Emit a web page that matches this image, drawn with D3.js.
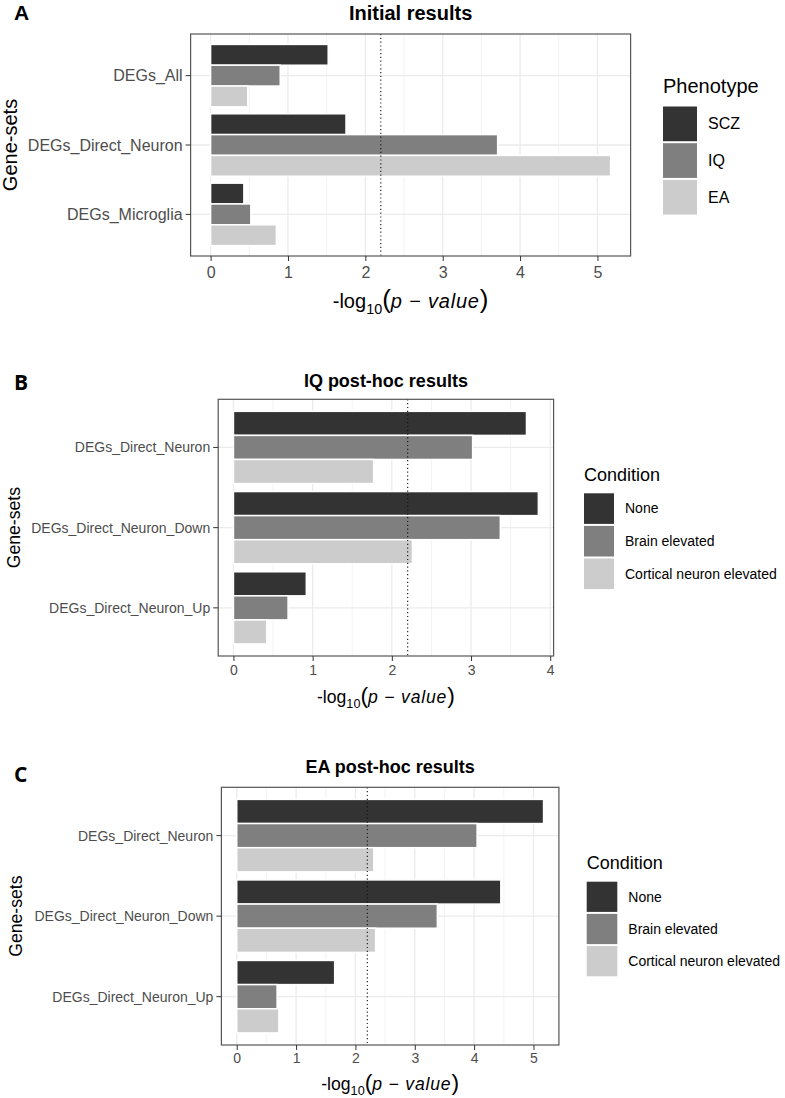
<!DOCTYPE html>
<html>
<head>
<meta charset="utf-8">
<style>
    body { margin: 0; background: #fff; }
    svg text { font-family: Arial, 'Liberation Sans', Helvetica, sans-serif; }
    svg text.letter { font-family: 'Open Sans', sans-serif; }
    .axis .domain { display: none; }
    .axis .tick line { stroke: #333; }
    .axis .tick text { fill: #4d4d4d; }
</style>
</head>
<body>
<svg width="785" height="1098"></svg>

<script src="https://d3js.org/d3.v7.min.js"></script>
<script>
    // ---- data ----
    const genesetsInitial = ["DEGs_All", "DEGs_Direct_Neuron", "DEGs_Microglia"];
    const phenotypes = ["SCZ", "IQ", "EA"];
    const initialSCZ = [1.52, 1.75, 0.43];
    const initialIQ = [0.90, 3.71, 0.52];
    const initialEA = [0.48, 5.17, 0.85];

    const genesetsPost = ["DEGs_Direct_Neuron", "DEGs_Direct_Neuron_Down", "DEGs_Direct_Neuron_Up"];
    const conditions = ["None", "Brain elevated", "Cortical neuron elevated"];
    const iqNone = [3.70, 3.85, 0.92];
    const iqBrain = [3.02, 3.37, 0.69];
    const iqCortical = [1.77, 2.26, 0.42];
    const eaNone = [5.17, 4.45, 1.65];
    const eaBrain = [4.05, 3.38, 0.68];
    const eaCortical = [2.31, 2.34, 0.71];

    const ticksInitial = [0, 1, 2, 3, 4, 5];
    const ticksIQ = [0, 1, 2, 3, 4];
    const ticksEA = [0, 1, 2, 3, 4, 5];
    const threshold = 2.2;

    const fills = ["#333333", "#7f7f7f", "#cccccc"];

    let svg = d3.select("svg");

    function drawPanel(p) {
        let g = svg.append("g");
        let maxV = d3.max(p.series.flat());

        let x = d3.scaleLinear()
            .domain([-0.05 * maxV, maxV * 1.05])
            .range([p.box.l, p.box.r]);

        let y = d3.scaleBand()
            .domain(p.cats)
            .range([p.box.t, p.box.b])
            .paddingInner(0)
            .paddingOuter(0.1);

        let sub = d3.scaleBand()
            .domain(p.groups)
            .range([0.05 * y.bandwidth(), 0.95 * y.bandwidth()]);

        let color = d3.scaleOrdinal().domain(p.groups).range(fills);

        // grid lines
        let minor = p.ticks.slice(1).map(t => t - 0.5);
        g.append("g").selectAll("line").data(minor).join("line")
            .attr("x1", d => x(d)).attr("x2", d => x(d))
            .attr("y1", p.box.t).attr("y2", p.box.b)
            .style("stroke", "#f0f0f0").style("stroke-width", 0.8);
        g.append("g").selectAll("line").data(p.ticks).join("line")
            .attr("x1", d => x(d)).attr("x2", d => x(d))
            .attr("y1", p.box.t).attr("y2", p.box.b)
            .style("stroke", "#ebebeb").style("stroke-width", 1.3);
        g.append("g").selectAll("line").data(p.cats).join("line")
            .attr("x1", p.box.l).attr("x2", p.box.r)
            .attr("y1", d => y(d) + y.bandwidth() / 2).attr("y2", d => y(d) + y.bandwidth() / 2)
            .style("stroke", "#ebebeb").style("stroke-width", 1.3);

        // bars
        let rows = p.cats.flatMap((c, i) => p.groups.map((grp, j) => ({ cat: c, grp: grp, v: p.series[j][i] })));
        g.append("g").selectAll("rect").data(rows).join("rect")
            .attr("x", x(0))
            .attr("y", d => y(d.cat) + sub(d.grp))
            .attr("width", d => x(d.v) - x(0))
            .attr("height", sub.bandwidth())
            .style("fill", d => color(d.grp))
            .style("stroke", "#fff")
            .style("stroke-width", 1.5);

        // threshold
        g.append("line")
            .attr("x1", x(threshold)).attr("x2", x(threshold))
            .attr("y1", p.box.t).attr("y2", p.box.b)
            .style("stroke", "#111").style("stroke-width", 1.1)
            .style("stroke-dasharray", "1.2,2.6");

        // border
        g.append("rect")
            .attr("x", p.box.l).attr("y", p.box.t)
            .attr("width", p.box.r - p.box.l).attr("height", p.box.b - p.box.t)
            .style("fill", "none").style("stroke", "#555").style("stroke-width", 1.2);

        // axes
        let xAxis = g.append("g").attr("class", "x axis")
            .attr("transform", `translate(0,${p.box.b})`)
            .call(d3.axisBottom(x).tickValues(p.ticks).tickSize(5).tickFormat(d3.format("d")));
        xAxis.selectAll(".tick text")
            .attr("y", p.xTickOffset).attr("dy", "0.35em")
            .style("font-size", p.tickSize + "px");

        let yAxis = g.append("g").attr("class", "y axis")
            .attr("transform", `translate(${p.box.l},0)`)
            .call(d3.axisLeft(y).tickSize(5).tickPadding(3));
        yAxis.selectAll(".tick text")
            .attr("dy", "0.35em")
            .style("font-size", p.tickSize + "px");

        // titles
        g.append("text")
            .attr("x", (p.box.l + p.box.r) / 2).attr("y", p.titleY)
            .attr("dy", "0.35em").attr("text-anchor", "middle")
            .style("font-weight", "bold").style("font-size", p.titleSize + "px")
            .text(p.title);

        g.append("text")
            .attr("class", p.letterClass)
            .attr("x", 14).attr("y", p.letterY).attr("dy", "0.35em")
            .style("font-weight", "bold").style("font-size", p.letterSize + "px")
            .text(p.letter);

        g.append("text")
            .attr("transform", `translate(${p.gsX},${(p.box.t + p.box.b) / 2}) rotate(-90)`)
            .attr("dy", "0.35em").attr("text-anchor", "middle")
            .style("font-size", p.axisTitleSize + "px")
            .text("Gene-sets");

        let s = p.axisTitleSize;
        let xl = g.append("text")
            .attr("x", (p.box.l + p.box.r) / 2).attr("y", p.xlabY)
            .attr("dy", "0.35em").attr("text-anchor", "middle")
            .style("font-size", s + "px");
        xl.append("tspan").text("-log");
        xl.append("tspan").attr("dy", s * 0.3).style("font-size", (s * 0.72) + "px").text("10");
        xl.append("tspan").attr("dy", -s * 0.3).style("font-size", (s * 1.3) + "px").style("font-weight", "300").text("(");
        xl.append("tspan").style("font-style", "italic").style("letter-spacing", "0.8px").text("p \u2212 value");
        xl.append("tspan").style("font-size", (s * 1.3) + "px").style("font-weight", "300").text(")");

        // legend
        let L = p.legend;
        g.append("text")
            .attr("x", L.x).attr("y", L.titleY).attr("dy", "0.35em")
            .style("font-size", L.titleSize + "px")
            .text(L.title);
        let lg = g.append("g").selectAll("g").data(p.groups).join("g")
            .attr("transform", (d, i) => `translate(${L.x},${L.top + i * L.step})`);
        lg.append("rect")
            .attr("width", L.key).attr("height", L.step - 2)
            .style("fill", d => color(d));
        lg.append("text")
            .attr("x", L.labelDx).attr("y", (L.step - 2) / 2).attr("dy", "0.35em")
            .style("font-size", L.labelSize + "px")
            .text(d => d);
    }

    drawPanel({
        letter: "A", letterY: 12.5, letterSize: 21, letterClass: "",
        title: "Initial results", titleY: 13, titleSize: 20,
        cats: genesetsInitial, groups: phenotypes,
        series: [initialSCZ, initialIQ, initialEA],
        ticks: ticksInitial,
        box: { l: 190.6, r: 630.6, t: 34, b: 256 },
        tickSize: 16, xTickOffset: 16.7, axisTitleSize: 20, gsX: 10, xlabY: 301,
        legend: { title: "Phenotype", x: 663, titleY: 86, titleSize: 20, top: 106.5, step: 36.7, key: 34, labelDx: 45, labelSize: 16 }
    });

    drawPanel({
        letter: "B", letterY: 383, letterSize: 21, letterClass: "letter",
        title: "IQ post-hoc results", titleY: 381, titleSize: 18,
        cats: genesetsPost, groups: conditions,
        series: [iqNone, iqBrain, iqCortical],
        ticks: ticksIQ,
        box: { l: 218.2, r: 553.6, t: 399.3, b: 656 },
        tickSize: 14, xTickOffset: 14, axisTitleSize: 17.6, gsX: 14, xlabY: 697,
        legend: { title: "Condition", x: 584, titleY: 475, titleSize: 18, top: 493.3, step: 32.6, key: 30, labelDx: 41, labelSize: 14 }
    });

    drawPanel({
        letter: "C", letterY: 775, letterSize: 21, letterClass: "letter",
        title: "EA post-hoc results", titleY: 767, titleSize: 18,
        cats: genesetsPost, groups: conditions,
        series: [eaNone, eaBrain, eaCortical],
        ticks: ticksEA,
        box: { l: 221.4, r: 558.9, t: 787.3, b: 1045 },
        tickSize: 14, xTickOffset: 13, axisTitleSize: 17.6, gsX: 16, xlabY: 1084,
        legend: { title: "Condition", x: 586.7, titleY: 863, titleSize: 18, top: 881.7, step: 32.2, key: 30.6, labelDx: 41.6, labelSize: 14 }
    });
</script>
</body>
</html>
